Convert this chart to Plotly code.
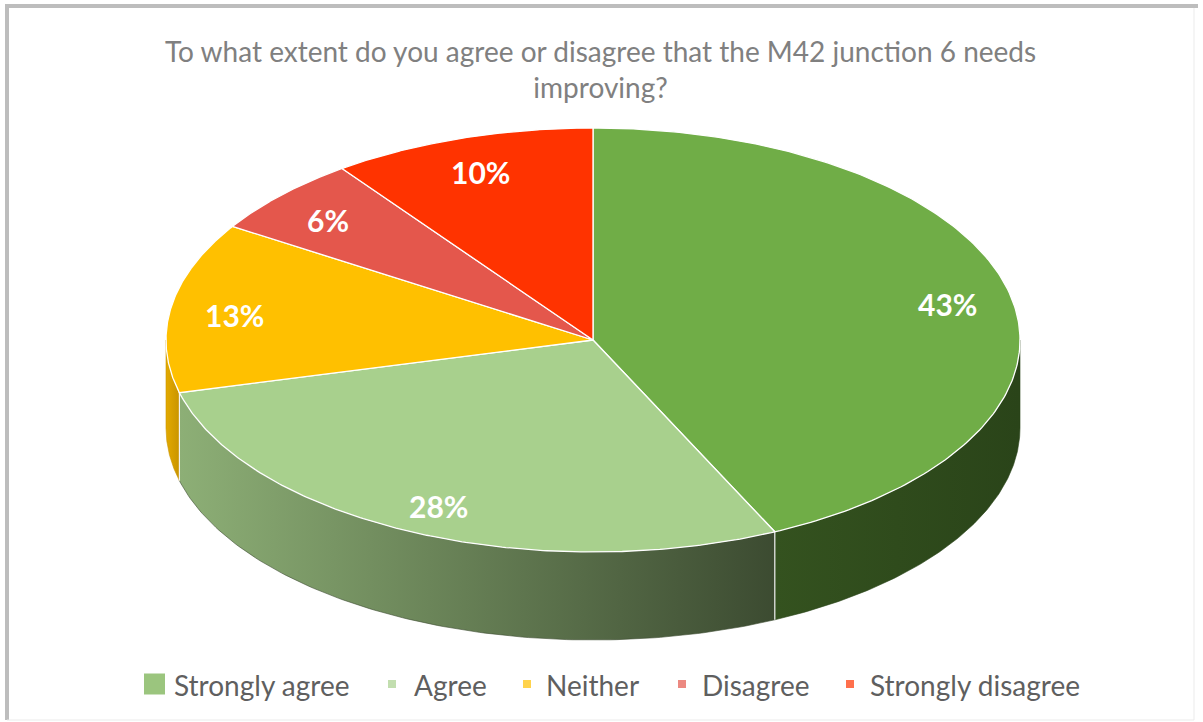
import numpy as np
import plotly.graph_objects as go

# Survey responses
categories = ["Strongly agree", "Agree", "Neither", "Disagree", "Strongly disagree"]
shares = [43, 28, 13, 6, 10]
top_colors = ["#70AD47", "#A8D08D", "#FFC000", "#E4574C", "#FF3300"]
side_colors = [("#34521F", "#2A4419"), ("#8DAF76", "#3C4B31"), ("#E3AA00", "#C99400"),
               ("#B84A40", "#9E3B32"), ("#D22A00", "#B02300")]
title_text = "To what extent do you agree or disagree that the M42 junction 6 needs<br>improving?"

# Pie geometry (pixel space, y grows downward)
W, H = 1203, 722
cx, cy, rx, ry, depth = 593, 340, 427, 212, 88
label_frac = 0.85


def ellipse(theta_deg, dy=0.0):
    t = np.radians(theta_deg)
    return cx + rx * np.sin(t), cy - ry * np.cos(t) + dy


fig = go.Figure()

total = sum(shares)
bounds = np.concatenate([[0], np.cumsum(shares)]) / total * 360.0

# Side walls (only the front half of the rim is visible)
for i, (a, b) in enumerate(zip(bounds[:-1], bounds[1:])):
    lo, hi = max(a, 90.0), min(b, 270.0)
    if hi <= lo:
        continue
    th = np.linspace(lo, hi, 120)
    xt, yt = ellipse(th)
    xb, yb = ellipse(th[::-1], depth)
    xs = np.concatenate([xt, xb, xt[:1]])
    ys = np.concatenate([yt, yb, yt[:1]])
    c1, c2 = side_colors[i]
    fig.add_trace(go.Scatter(
        x=xs, y=ys, mode="lines", fill="toself",
        line=dict(width=0.6, color=c2),
        fillgradient=dict(type="horizontal", colorscale=[[0, c1], [1, c2]]),
        hoverinfo="skip", showlegend=False))

# Vertical seams on the rim where slices meet
for edge in bounds[1:-1]:
    if 90.0 < edge < 270.0:
        x0, y0 = ellipse(edge)
        x1, y1 = ellipse(edge, depth)
        fig.add_trace(go.Scatter(x=[x0, x1], y=[y0, y1], mode="lines",
                                 line=dict(color="#F2F2F2", width=1.2),
                                 hoverinfo="skip", showlegend=False))

# Top faces
for i, (a, b) in enumerate(zip(bounds[:-1], bounds[1:])):
    th = np.linspace(a, b, 200)
    xa, ya = ellipse(th)
    xs = np.concatenate([[cx], xa, [cx]])
    ys = np.concatenate([[cy], ya, [cy]])
    fig.add_trace(go.Scatter(
        x=xs, y=ys, mode="lines", fill="toself", fillcolor=top_colors[i],
        line=dict(color="#FFFFFF", width=1.3),
        hoverinfo="skip", showlegend=False))

# Percentage labels
annotations = []
for i, (a, b) in enumerate(zip(bounds[:-1], bounds[1:])):
    mid = (a + b) / 2
    t = np.radians(mid)
    lx = cx + label_frac * rx * np.sin(t)
    ly = cy - label_frac * ry * np.cos(t) + 3
    annotations.append(dict(
        x=lx, y=ly, xref="x", yref="y", text=f"<b>{shares[i]}%</b>",
        showarrow=False, font=dict(family="Lato", size=30, color="#FFFFFF")))

# Legend row along the bottom
legend_x = [144, 388, 523, 678, 846]
legend_size = [21, 8, 8, 8, 8]
legend_text_x = [172, 412, 544, 700, 868]
legend_y = 684
fig.add_trace(go.Scatter(
    x=[lx_ + s / 2 for lx_, s in zip(legend_x, legend_size)], y=[legend_y] * 5,
    mode="markers",
    marker=dict(symbol="square", size=legend_size, color=top_colors, line=dict(width=0)),
    hoverinfo="skip", showlegend=False))
for i, name in enumerate(categories):
    annotations.append(dict(
        x=legend_text_x[i], y=legend_y + 1, xref="x", yref="y",
        text=name, xanchor="left", yanchor="middle", showarrow=False,
        font=dict(family="Lato", size=28, color="#5F5F5F")))

# Title
annotations.append(dict(
    x=600, y=69, xref="x", yref="y", text=title_text, showarrow=False,
    xanchor="center", yanchor="middle", align="center",
    font=dict(family="Lato", size=28, color="#808080")))

# Chart frame
shapes = [
    dict(type="line", x0=5, x1=1198, y0=6, y1=6, xref="x", yref="y",
         line=dict(color="#BDBDBD", width=4)),
    dict(type="line", x0=7, x1=7, y0=4, y1=720, xref="x", yref="y",
         line=dict(color="#BDBDBD", width=4)),
    dict(type="line", x0=1194, x1=1194, y0=8, y1=720, xref="x", yref="y",
         line=dict(color="#EBEBEB", width=1)),
    dict(type="line", x0=7, x1=1194, y0=720, y1=720, xref="x", yref="y",
         line=dict(color="#EBEBEB", width=1)),
]

fig.update_layout(
    width=W, height=H, margin=dict(l=0, r=0, t=0, b=0),
    paper_bgcolor="#FFFFFF", plot_bgcolor="#FFFFFF",
    xaxis=dict(range=[0, W], visible=False, fixedrange=True),
    yaxis=dict(range=[H, 0], visible=False, fixedrange=True),
    annotations=annotations, shapes=shapes, showlegend=False,
)

fig.write_html("out.html")
